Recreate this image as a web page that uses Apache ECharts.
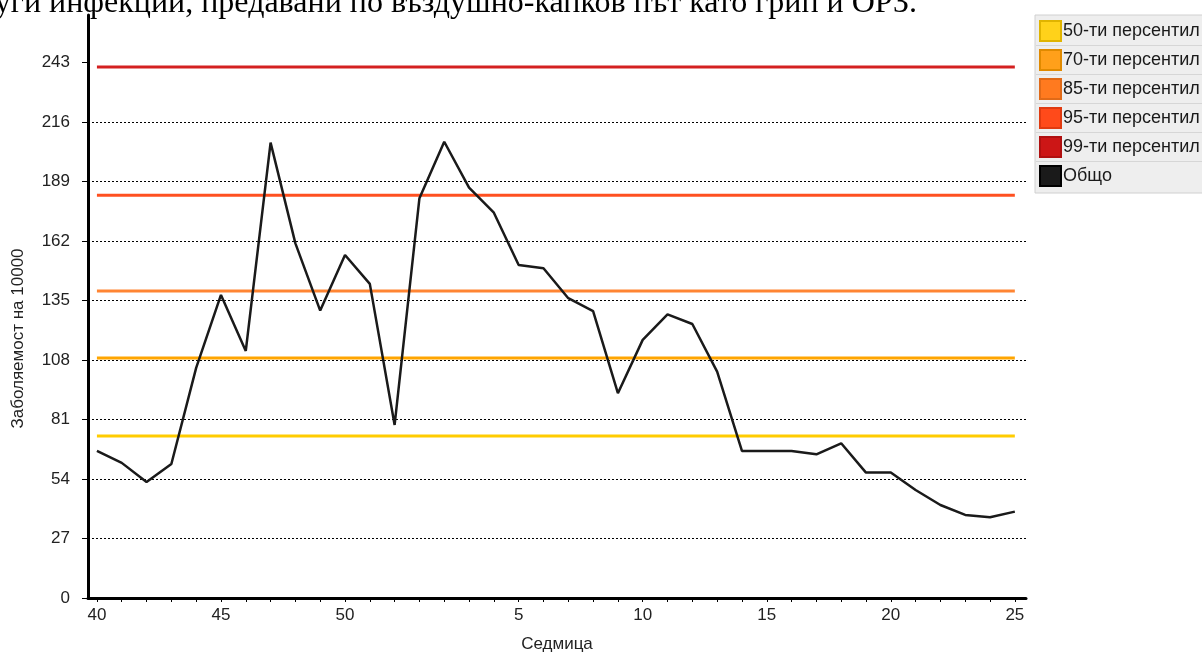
<!DOCTYPE html>
<html><head><meta charset="utf-8">
<script src="https://cdn.jsdelivr.net/npm/echarts@6/dist/echarts.min.js"></script>
<style>html,body{margin:0;padding:0;background:#fff}#c{width:1202px;height:653px}</style>
</head><body><div id="c"></div>
<script>
// Weeks: 40..52 then 1..25
const weeks = [40,41,42,43,44,45,46,47,48,49,50,51,52,1,2,3,4,5,6,7,8,9,10,11,12,13,14,15,16,17,18,19,20,21,22,23,24,25];
const totalValues = [66.7,61.3,52.6,60.8,104.4,137.5,112.1,206.6,160.9,130.4,155.6,142.5,78.5,181.4,207.0,186.2,174.8,151.1,149.6,136.0,130.2,92.9,117.1,128.7,124.3,102.7,66.7,66.7,66.7,65.2,70.2,56.9,56.9,49.0,42.2,37.7,36.6,39.2];
const percentileNames = ['50-ти персентил','70-ти персентил','85-ти персентил','95-ти персентил','99-ти персентил'];
const percentileValues = [73.5, 108.9, 139.3, 182.7, 240.9];
const totalName = 'Общо';
const yTicks = [0,27,54,81,108,135,162,189,216,243];

const lineColors = ['#ffcc00','#ffa500','#ff8533','#ff5020','#d42020'];
const boxColors = ['#ffd21a','#ffa01a','#ff7a1f','#ff4a1a','#cc1616'];
const boxBorders = ['#e0b400','#e08a00','#e06a18','#e03a10','#b01010'];

const labelIdx = weeks.map((w,i)=> w % 5 === 0 ? i : -1).filter(i=>i>=0);
const tickIdx = weeks.map((w,i)=>i);

const series = percentileNames.map((n,k)=>({
  name:n, type:'line', showSymbol:false, symbol:'none', silent:true,
  data:[[0,percentileValues[k]],[weeks.length-1,percentileValues[k]]],
  lineStyle:{color:lineColors[k], width:3},
  itemStyle:{color:boxColors[k], borderColor:boxBorders[k], borderWidth:1},
  z:2
}));
series.push({
  name: totalName, type:'line', showSymbol:false, symbol:'none',
  data: totalValues.map((v,i)=>[i,v]),
  lineStyle:{color:'#1a1a1a', width:2.5},
  itemStyle:{color:'#1a1a1a', borderColor:'#000', borderWidth:1},
  z:3
});

const lab = {fontFamily:'Liberation Sans', fontSize:17, color:'#222'};

const chart = echarts.init(document.getElementById('c'), null, {renderer:'canvas'});
chart.setOption({
  animation:false,
  backgroundColor:'#fff',
  grid:{left:88, right:176, top:15, bottom:55, containLabel:false, outerBoundsMode:'none'},
  xAxis:{
    type:'value', min:-0.36, max:37.45,
    name:'Седмица', nameLocation:'middle', nameGap:38,
    nameTextStyle:lab,
    axisLine:{show:true, onZero:false, lineStyle:{color:'#000', width:3}},
    axisTick:{show:true, customValues:tickIdx, length:4, lineStyle:{color:'#000', width:1}},
    axisLabel:Object.assign({customValues:labelIdx, formatter:(v)=> String(weeks[Math.round(v)]), margin:9}, lab),
    splitLine:{show:false}
  },
  yAxis:{
    type:'value', min:0, max:264.5, interval:27,
    name:'Заболяемост на 10000', nameLocation:'middle', nameGap:61, nameRotate:90,
    nameTextStyle:Object.assign({padding:[0,64,0,0]}, lab),
    axisLine:{show:true, onZero:false, lineStyle:{color:'#000', width:3}},
    axisTick:{show:true, customValues:yTicks, length:6, lineStyle:{color:'#000', width:1}},
    axisLabel:Object.assign({customValues:yTicks, margin:18}, lab),
    splitLine:{show:true, showMinLine:false, showMaxLine:false, lineStyle:{color:'#000', width:1, type:[2,2]}}
  },
  legend:{
    orient:'vertical', left:1035, top:15,
    data: percentileNames.concat([totalName]),
    icon:'rect', itemWidth:21, itemHeight:20, itemGap:7,
    padding:[5,5,6,4],
    backgroundColor:'#eeeeee', borderColor:'#d0d0d0', borderWidth:1,
    textStyle:Object.assign({padding:[0,0,0,-3]}, lab, {fontSize:18, color:'#1a1a1a'}),
    selectedMode:false
  },
  graphic:[
    {type:'text', left:-37, top:-12, z:10, style:{text:'други инфекции, предавани по въздушно-капков път като грип и ОРЗ.', font:'32px "Liberation Serif"', fill:'#000'}},
    ...[45.5,74.5,103.5,132.5,161.5].map(y=>({type:'line', z:10, shape:{x1:1036,y1:y,x2:1202,y2:y}, style:{stroke:'#d6d6d6', lineWidth:1}}))
  ],
  series: series
});
</script></body></html>
